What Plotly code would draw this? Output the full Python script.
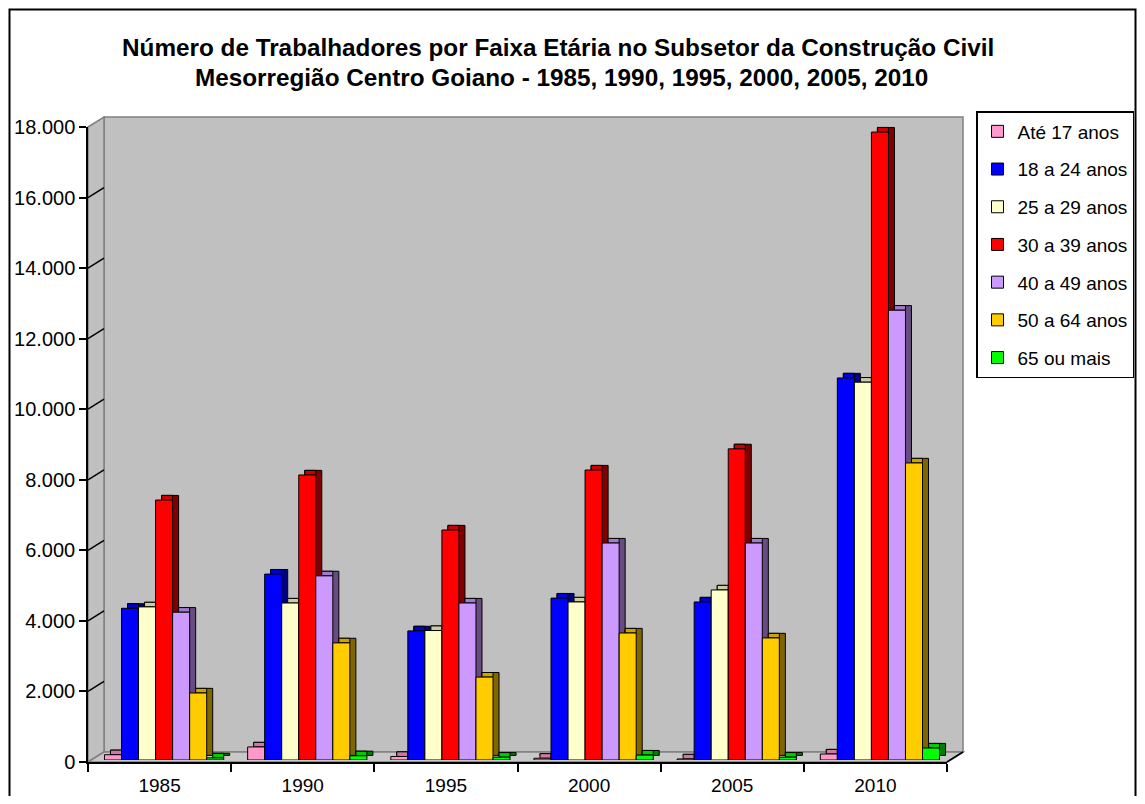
import plotly.graph_objects as go

# the page puts the figure 8 px in from the top-left corner
OFF = 8
W, H = 1145 - 2 * OFF, 804 - 2 * OFF

years = ["1985", "1990", "1995", "2000", "2005", "2010"]
age_groups = [
    "Até 17 anos",
    "18 a 24 anos",
    "25 a 29 anos",
    "30 a 39 anos",
    "40 a 49 anos",
    "50 a 64 anos",
    "65 ou mais",
]
ate_17 = [150, 370, 100, 50, 30, 170]
de_18_24 = [4300, 5270, 3660, 4590, 4480, 10830]
de_25_29 = [4340, 4450, 3670, 4480, 4820, 10710]
de_30_39 = [7370, 8080, 6520, 8220, 8820, 17800]
de_40_49 = [4190, 5220, 4450, 6150, 6150, 12750]
de_50_64 = [1900, 3320, 2350, 3600, 3460, 8420]
mais_65 = [60, 120, 80, 140, 80, 340]
series = [ate_17, de_18_24, de_25_29, de_30_39, de_40_49, de_50_64, mais_65]

# front, top and side colours of each series (Excel-style 3D shading)
front_colors = ["#FF99CC", "#0000FF", "#FFFFCC", "#FF0000", "#CC99FF", "#FFCC00", "#00FF00"]
top_colors = ["#CC7AA3", "#0000CC", "#CCCCA3", "#CC0000", "#A37ACC", "#CCA300", "#00CC00"]
side_colors = ["#804C66", "#000080", "#808066", "#800000", "#664C80", "#806600", "#008000"]

Y_MAX = 18000
y_ticks = list(range(0, Y_MAX + 1, 2000))


def px(x):
    return (x - OFF) / W


def py(y):
    return 1 - (y - OFF) / H


# pixel geometry of the pseudo 3D box (page pixels)
FRONT_L, FRONT_R, FRONT_B, FRONT_T = 88, 947, 762, 127
SHIFT_X, SHIFT_Y = 16, 10
UNITS_PER_PX = Y_MAX / (FRONT_B - FRONT_T)

BAR_W = 0.119
GROUP_START = -0.385
DX = 0.042
DEPTH = 4.6 * UNITS_PER_PX

x_idx = list(range(len(years)))
fig = go.Figure()

# depth faces first (behind), then the front faces
for i, (name, vals) in enumerate(zip(age_groups, series)):
    off = GROUP_START + i * BAR_W
    fig.add_trace(go.Bar(
        x=x_idx, y=vals, base=DEPTH, offset=off + DX, width=BAR_W,
        marker=dict(color=side_colors[i], line=dict(color="black", width=1)),
        xaxis="x3", yaxis="y3", showlegend=False, legendgroup=name,
        hoverinfo="skip",
    ))
    fig.add_trace(go.Bar(
        x=x_idx, y=[DEPTH] * len(vals), base=vals, offset=off + DX, width=BAR_W - DX,
        marker=dict(color=top_colors[i], line=dict(color="black", width=1)),
        xaxis="x3", yaxis="y3", showlegend=False, legendgroup=name,
        hoverinfo="skip",
    ))

for i, (name, vals) in enumerate(zip(age_groups, series)):
    off = GROUP_START + i * BAR_W
    fig.add_trace(go.Bar(
        x=x_idx, y=vals, offset=off, width=BAR_W, name=name,
        marker=dict(color=front_colors[i], line=dict(color="black", width=1)),
        xaxis="x3", yaxis="y3", legendgroup=name,
    ))

shapes = []
# back wall, side wall and floor
shapes.append(dict(
    type="rect", xref="paper", yref="paper", layer="below",
    x0=px(FRONT_L + SHIFT_X), x1=px(FRONT_R + SHIFT_X),
    y0=py(FRONT_B - SHIFT_Y), y1=py(FRONT_T - SHIFT_Y),
    fillcolor="#C0C0C0", line=dict(color="#808080", width=1.5),
))
side_path = "M {} {} L {} {} L {} {} L {} {} Z".format(
    px(FRONT_L), py(FRONT_T), px(FRONT_L + SHIFT_X), py(FRONT_T - SHIFT_Y),
    px(FRONT_L + SHIFT_X), py(FRONT_B - SHIFT_Y), px(FRONT_L), py(FRONT_B))
shapes.append(dict(type="path", path=side_path, xref="paper", yref="paper", layer="below",
                   fillcolor="#C0C0C0", line=dict(color="#808080", width=1.5)))
floor_path = "M {} {} L {} {} L {} {} L {} {} Z".format(
    px(FRONT_L), py(FRONT_B), px(FRONT_R), py(FRONT_B),
    px(FRONT_R + SHIFT_X), py(FRONT_B - SHIFT_Y), px(FRONT_L + SHIFT_X), py(FRONT_B - SHIFT_Y))
shapes.append(dict(type="path", path=floor_path, xref="paper", yref="paper", layer="below",
                   fillcolor="#C8C8C8", line=dict(color="#808080", width=1.5)))
# slanted gridlines on the side wall
for v in y_ticks[1:-1]:
    shapes.append(dict(
        type="line", xref="paper", yref="y2", layer="below",
        x0=px(FRONT_L), y0=v, x1=px(FRONT_L + SHIFT_X), y1=v + SHIFT_Y * UNITS_PER_PX,
        line=dict(color="black", width=1.5),
    ))
# right front edge of the floor
shapes.append(dict(
    type="line", xref="paper", yref="paper",
    x0=px(FRONT_R), y0=py(FRONT_B), x1=px(FRONT_R + SHIFT_X), y1=py(FRONT_B - SHIFT_Y),
    line=dict(color="black", width=1.5),
))
# chart border (bottom edge falls below the picture)
shapes.append(dict(type="rect", xref="paper", yref="paper", x0=px(9.5), x1=px(1135.5),
                   y0=py(810), y1=py(9.5), line=dict(color="black", width=2)))

font_family = "Liberation Sans, Arial, sans-serif"
fig.update_layout(
    width=W, height=H,
    margin=dict(l=0, r=0, t=0, b=0),
    paper_bgcolor="white",
    plot_bgcolor="rgba(0,0,0,0)",
    barmode="overlay",
    separators=",.",
    font=dict(family=font_family, size=20, color="black"),
    shapes=shapes,
    # back wall gridlines
    xaxis=dict(domain=[px(FRONT_L + SHIFT_X), px(FRONT_R + SHIFT_X)], range=[-0.5, 5.5],
               visible=False, automargin=False),
    yaxis=dict(domain=[py(FRONT_B - SHIFT_Y), py(FRONT_T - SHIFT_Y)], range=[0, Y_MAX],
               anchor="x", tickvals=y_ticks[1:-1], showticklabels=False, ticks="",
               showgrid=True, gridcolor="black", gridwidth=1.5, zeroline=False,
               showline=False, automargin=False),
    # front axes with labels
    xaxis2=dict(domain=[px(FRONT_L), px(FRONT_R)], range=[-0.5, 5.5], anchor="y2",
                tickvals=x_idx, ticktext=years, ticks="", ticklabelstandoff=5,
                minor=dict(tickvals=[k - 0.5 for k in range(len(years) + 1)],
                           ticks="outside", ticklen=8, tickwidth=1.5, tickcolor="black"),
                showgrid=False, zeroline=False, showline=True, linecolor="black",
                linewidth=1.5, automargin=False, tickfont=dict(size=19)),
    yaxis2=dict(domain=[py(FRONT_B), py(FRONT_T)], range=[0, Y_MAX], anchor="x2",
                tickvals=y_ticks, tickformat=",", ticks="outside", ticklen=7,
                tickwidth=1.5, tickcolor="black", showgrid=False, zeroline=False,
                showline=True, linecolor="black", linewidth=1.5, automargin=False,
                tickfont=dict(size=20)),
    # bars
    xaxis3=dict(domain=[px(FRONT_L), px(FRONT_R)], range=[-0.5, 5.5], anchor="y3",
                visible=False, automargin=False),
    yaxis3=dict(domain=[py(FRONT_B - 2), py(FRONT_T - 2)], range=[0, Y_MAX], anchor="x3",
                visible=False, automargin=False),
    legend=dict(
        x=px(976), y=py(111), xanchor="left", yanchor="top",
        bordercolor="black", borderwidth=1.5, bgcolor="white",
        traceorder="grouped", tracegroupgap=10, font=dict(size=19),
    ),
    annotations=[
        dict(text="<b>Número de Trabalhadores por Faixa Etária no Subsetor da Construção Civil</b>",
             x=px(558), y=py(47), xref="paper", yref="paper", showarrow=False,
             xanchor="center", yanchor="middle", font=dict(size=24.3)),
        dict(text="<b>Mesorregião Centro Goiano - 1985, 1990, 1995, 2000, 2005, 2010</b>",
             x=px(561), y=py(78), xref="paper", yref="paper", showarrow=False,
             xanchor="center", yanchor="middle", font=dict(size=24.3)),
    ],
)

fig.write_html("out.html")
